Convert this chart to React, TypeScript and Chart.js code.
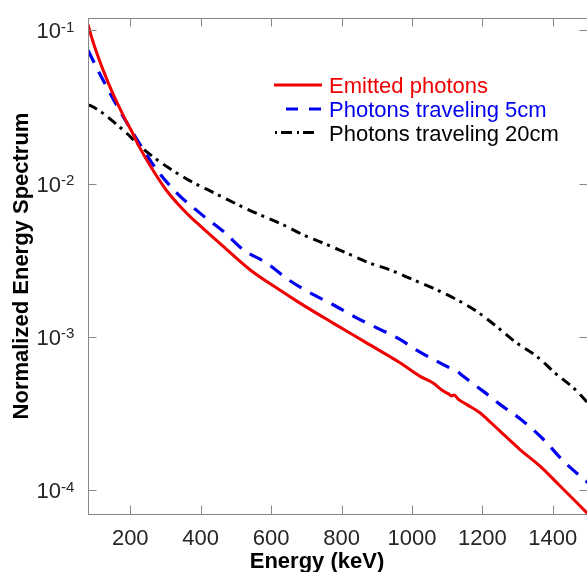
import React, { useEffect, useRef } from 'react';
import { Chart, registerables } from 'chart.js';

Chart.register(...registerables);

// ---- Data ----
const emittedEnergy = [80, 90, 109, 128, 147, 166, 185, 204, 223, 261, 308, 365, 398, 464, 540, 616, 682, 776, 871, 966, 1022, 1060, 1089, 1104, 1112, 1120, 1131, 1155, 1193, 1212, 1250, 1306, 1363, 1420, 1500];
const emittedValue = [0.109, 0.0902, 0.0668, 0.0513, 0.0403, 0.0324, 0.0264, 0.0219, 0.0178, 0.01259, 0.0087, 0.00624, 0.00531, 0.00389, 0.00274, 0.00208, 0.00166, 0.00123, 0.000914, 0.000678, 0.000555, 0.0005, 0.000443, 0.000425, 0.000412, 0.000418, 0.000393, 0.000363, 0.00032, 0.000293, 0.000243, 0.000185, 0.000144, 0.000107, 0.00007];

const travel5Energy = [80, 88.5, 107.5, 133, 161.5, 194.5, 213, 240, 280, 336, 398, 464, 521, 587, 649, 710, 776, 843, 900, 966, 1018, 1089, 1115, 1131, 1145, 1202, 1250, 1316, 1373, 1430, 1477, 1500];
const travel5Value = [0.0741, 0.0676, 0.0552, 0.0427, 0.0324, 0.024, 0.0204, 0.0162, 0.0119, 0.00851, 0.00641, 0.00488, 0.0037, 0.00303, 0.00236, 0.00194, 0.00162, 0.00133, 0.001145, 0.000962, 0.000807, 0.00066, 0.000615, 0.00059, 0.000555, 0.000443, 0.000363, 0.000282, 0.000215, 0.000155, 0.000124, 0.000112];

const travel20Energy = [80, 88.5, 119, 152, 185, 223, 256, 308, 370, 440, 502, 535, 568, 634, 691, 748, 814, 880, 937, 1003, 1060, 1127, 1183, 1240, 1297, 1354, 1411, 1458, 1500];
const travel20Value = [0.0325, 0.0321, 0.0291, 0.0253, 0.0218, 0.018, 0.01549, 0.0127, 0.0104, 0.00865, 0.00735, 0.00675, 0.00625, 0.00538, 0.00463, 0.00409, 0.00352, 0.00303, 0.00274, 0.00236, 0.00208, 0.00175, 0.00147, 0.00117, 0.000914, 0.000748, 0.000569, 0.000466, 0.00037];

const seriesLabels = ['Emitted photons', 'Photons traveling 5cm', 'Photons traveling 20cm'];
const seriesColors = ['#f00000', '#0000f0', '#000000'];

const xTickValues = [200, 400, 600, 800, 1000, 1200, 1400];
const yTickExponents = [-1, -2, -3, -4];

const xTitle = 'Energy (keV)';
const yTitle = 'Normalized Energy Spectrum';

const FONT = '"Liberation Sans", Arial, Helvetica, sans-serif';

const toPoints = (xs: number[], ys: number[]) => xs.map((x, i) => ({ x, y: ys[i] }));

const framePlugin = {
  id: 'frame',
  afterDraw(chart: any) {
    const { ctx, chartArea: a, scales } = chart;
    const xs = scales.x;
    const ys = scales.y;
    ctx.save();
    // box
    ctx.strokeStyle = '#888888';
    ctx.lineWidth = 1;
    ctx.setLineDash([]);
    ctx.strokeRect(a.left + 0.5, a.top + 0.5, a.right - a.left - 1, a.bottom - a.top);
    const tl = 8.5;
    ctx.beginPath();
    xTickValues.forEach((v) => {
      const px = Math.round(xs.getPixelForValue(v)) + 0.5;
      ctx.moveTo(px, a.bottom);
      ctx.lineTo(px, a.bottom - tl);
      ctx.moveTo(px, a.top);
      ctx.lineTo(px, a.top + tl);
    });
    yTickExponents.forEach((e) => {
      const py = Math.round(ys.getPixelForValue(Math.pow(10, e))) + 0.5;
      ctx.moveTo(a.left, py);
      ctx.lineTo(a.left + tl, py);
      ctx.moveTo(a.right, py);
      ctx.lineTo(a.right - tl, py);
    });
    ctx.stroke();

    // x tick labels
    ctx.fillStyle = '#262626';
    ctx.font = `22px ${FONT}`;
    ctx.textAlign = 'center';
    ctx.textBaseline = 'alphabetic';
    xTickValues.forEach((v) => {
      const px = xs.getPixelForValue(v);
      ctx.fillText(String(v), px, a.bottom + 30.5);
    });

    // y tick labels 10^e
    yTickExponents.forEach((e) => {
      const py = ys.getPixelForValue(Math.pow(10, e));
      ctx.font = `22px ${FONT}`;
      ctx.textAlign = 'right';
      ctx.fillText('10', 61, py + 8);
      ctx.font = `15px ${FONT}`;
      ctx.textAlign = 'left';
      ctx.fillText('-' + String(-e), 61, py + 1.5);
    });

    // axis titles
    ctx.fillStyle = '#000000';
    ctx.font = `bold 22px ${FONT}`;
    ctx.textAlign = 'center';
    ctx.fillText(xTitle, 317, 568);
    ctx.save();
    ctx.translate(28, (a.top + a.bottom) / 2);
    ctx.rotate(-Math.PI / 2);
    ctx.fillText(yTitle, 0, 0);
    ctx.restore();

    // legend
    const rows = [
      { y: 85, base: 93, dash: [] as number[], x0: 274, x1: 322 },
      { y: 109, base: 117, dash: [12, 11], x0: 286, x1: 322 },
      { y: 132.5, base: 140.5, dash: [2, 4, 11, 5], x0: 275, x1: 316 },
    ];
    rows.forEach((r, i) => {
      ctx.strokeStyle = seriesColors[i];
      ctx.lineWidth = 3;
      ctx.lineCap = 'butt';
      ctx.setLineDash(r.dash);
      ctx.beginPath();
      ctx.moveTo(r.x0, r.y);
      ctx.lineTo(r.x1, r.y);
      ctx.stroke();
      ctx.setLineDash([]);
      ctx.fillStyle = seriesColors[i];
      ctx.font = `22px ${FONT}`;
      ctx.textAlign = 'left';
      ctx.fillText(seriesLabels[i], 329, r.base);
    });
    ctx.restore();
  },
};

export default function App() {
  const canvasRef = useRef<HTMLCanvasElement | null>(null);

  useEffect(() => {
    const canvas = canvasRef.current;
    if (!canvas) return;
    const chart = new Chart(canvas, {
      type: 'line',
      data: {
        datasets: [
          {
            label: seriesLabels[0],
            data: toPoints(emittedEnergy, emittedValue),
            borderColor: seriesColors[0],
            borderWidth: 3,
            pointRadius: 0,
            cubicInterpolationMode: 'monotone',
            fill: false,
          },
          {
            label: seriesLabels[1],
            data: toPoints(travel5Energy, travel5Value),
            borderColor: seriesColors[1],
            borderWidth: 3.2,
            borderDash: [14, 10],
            pointRadius: 0,
            cubicInterpolationMode: 'monotone',
            fill: false,
          },
          {
            label: seriesLabels[2],
            data: toPoints(travel20Energy, travel20Value),
            borderColor: seriesColors[2],
            borderWidth: 3,
            borderDash: [10, 5, 3, 6],
            pointRadius: 0,
            cubicInterpolationMode: 'monotone',
            fill: false,
          },
        ],
      },
      options: {
        animation: false,
        responsive: false,
        maintainAspectRatio: false,
        layout: { padding: { left: 88, top: 18, right: 12, bottom: 58 } },
        plugins: { legend: { display: false }, tooltip: { enabled: false }, title: { display: false } },
        scales: {
          x: { type: 'linear', min: 80, max: 1500, display: false },
          y: { type: 'logarithmic', min: 7e-5, max: 0.12, display: false },
        },
        elements: { line: { borderCapStyle: 'butt', borderJoinStyle: 'round' } },
      },
      plugins: [framePlugin],
    });
    return () => chart.destroy();
  }, []);

  return (
    <div style={{ position: 'fixed', left: 0, top: 0, width: 587, height: 572, overflow: 'hidden', background: '#ffffff' }}>
      <canvas ref={canvasRef} width={600} height={572} style={{ width: 600, height: 572, display: 'block' }} />
    </div>
  );
}
